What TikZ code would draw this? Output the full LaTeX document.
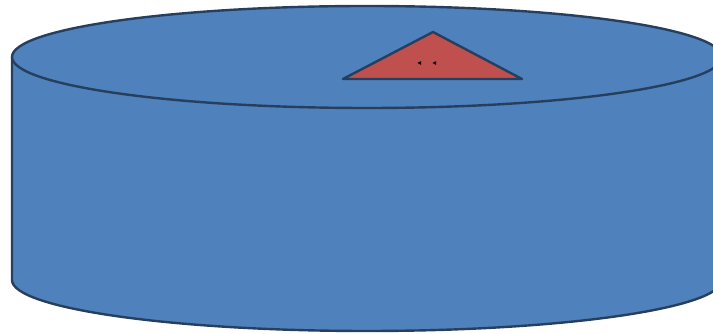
\documentclass[tikz,border=0pt]{standalone}
\definecolor{cylfill}{HTML}{4F81BD}
\definecolor{cylline}{HTML}{263F5E}
\definecolor{trifill}{HTML}{C0504D}
\tikzset{
  shapeline/.style={draw=cylline, line width=2.4pt, line join=round},
  tinymark/.style={fill=black, draw=none}
}
\begin{document}
\begin{tikzpicture}[x=1pt,y=1pt]
\useasboundingbox (0,0) rectangle (713,334);
\clip (0,0) rectangle (713,334);
% cylinder body
\path[fill=cylfill] (12,277) -- (12,54)
  arc[start angle=180, end angle=360, x radius=355, y radius=51]
  -- (722,277) -- cycle;
\draw[shapeline] (12,277) -- (12,54)
  arc[start angle=180, end angle=360, x radius=355, y radius=51]
  -- (722,277);
% top ellipse
\draw[shapeline, fill=cylfill] (367,277) ellipse[x radius=355, y radius=51];
% triangle
\coordinate (apex) at (433,302);
\coordinate (bl) at (343,255);
\coordinate (br) at (522,255);
\draw[shapeline, fill=trifill] (apex) -- (bl) -- (br) -- cycle;
% tiny marks
\path[tinymark] (417.5,271) -- (421,272.8) -- (421,269.2) -- cycle;
\path[tinymark] (432.5,271) -- (436,272.8) -- (436,269.2) -- cycle;
\end{tikzpicture}
\end{document}
